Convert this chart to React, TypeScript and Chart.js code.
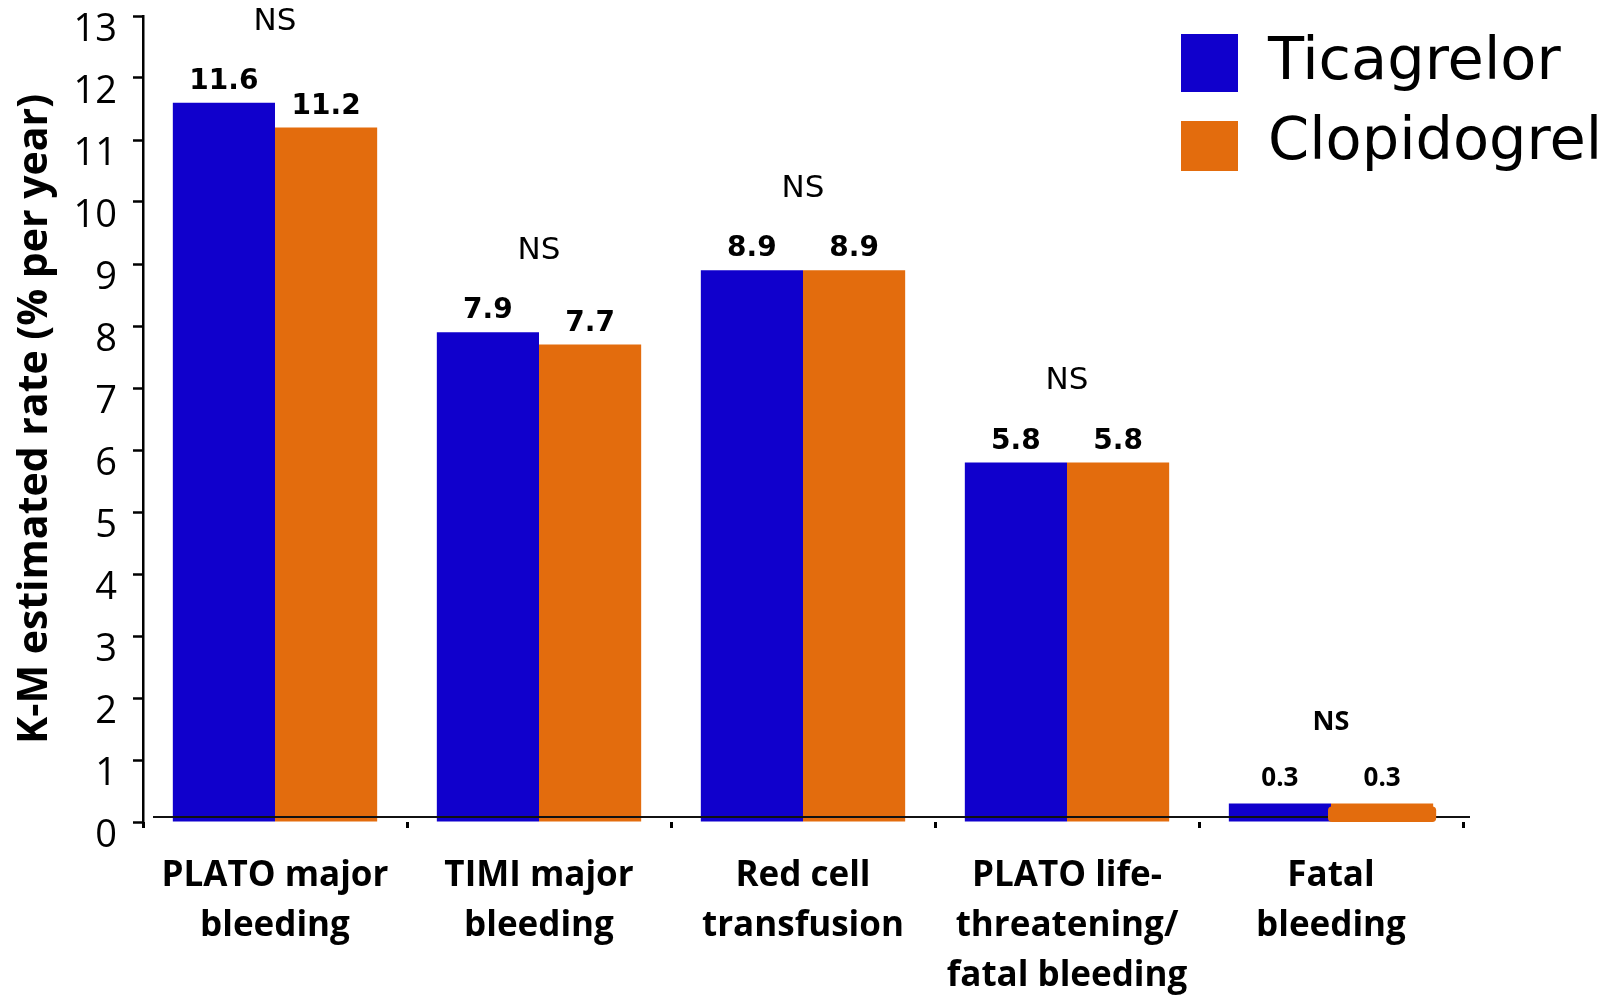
import React, { useEffect, useRef } from "react";
import { Chart, registerables } from "chart.js";

Chart.register(...registerables);

// Bleeding end points (K-M estimated rate, % per year)
const categories: string[][] = [
  ["PLATO major", "bleeding"],
  ["TIMI major", "bleeding"],
  ["Red cell", "transfusion"],
  ["PLATO life-", "threatening/", "fatal bleeding"],
  ["Fatal", "bleeding"],
];
const ticagrelor = [11.6, 7.9, 8.9, 5.8, 0.3];
const clopidogrel = [11.2, 7.7, 8.9, 5.8, 0.3];
const significance = ["NS", "NS", "NS", "NS", "NS"];
const seriesNames = ["Ticagrelor", "Clopidogrel"];
const yTicks = [0, 1, 2, 3, 4, 5, 6, 7, 8, 9, 10, 11, 12, 13];

const BLUE = "#1000CC";
const ORANGE = "#E36C0D";

// Value labels above the bars plus the "NS" note above each pair
const annotations = {
  id: "annotations",
  afterDatasetsDraw(chart: any) {
    const { ctx, chartArea } = chart;
    const y = chart.scales.y;
    const zero = y.getPixelForValue(0);

    // thin baseline rule drawn across the bars
    ctx.save();
    ctx.strokeStyle = "#111";
    ctx.lineWidth = 2;
    ctx.beginPath();
    ctx.moveTo(chartArea.left + 10, zero - 5);
    ctx.lineTo(chartArea.right + 7, zero - 5);
    ctx.stroke();
    ctx.restore();

    const metaA = chart.getDatasetMeta(0);
    const metaB = chart.getDatasetMeta(1);
    const last = categories.length - 1;

    // the last orange bar is drawn as a rounded block over the rule
    const lastBar: any = metaB.data[last];
    if (lastBar) {
      ctx.save();
      ctx.fillStyle = ORANGE;
      const w = lastBar.width + 6;
      ctx.beginPath();
      (ctx as any).roundRect(lastBar.x - lastBar.width / 2 - 3, lastBar.y + 3, w, zero - lastBar.y - 3, 4);
      ctx.fill();
      ctx.restore();
    }

    ctx.save();
    ctx.fillStyle = "#000";
    ctx.textAlign = "center";
    [metaA, metaB].forEach((meta: any, di: number) => {
      meta.data.forEach((bar: any, i: number) => {
        const v = chart.data.datasets[di].data[i];
        const text = v.toFixed(1);
        if (i === last) {
          ctx.font = "bold 26px 'Open Sans'";
          ctx.textBaseline = "middle";
          ctx.fillText(text, bar.x, bar.y - 25);
        } else {
          ctx.font = "bold 28px 'DejaVu Sans'";
          ctx.textBaseline = "bottom";
          ctx.fillText(text, bar.x, bar.y - 7);
        }
      });
    });

    significance.forEach((s, i) => {
      const a = metaA.data[i];
      const b = metaB.data[i];
      const cx = (a.x + b.x) / 2;
      const top = Math.min(a.y, b.y);
      ctx.textBaseline = "middle";
      ctx.font = i === last ? "bold 27px 'Open Sans'" : "31px 'DejaVu Sans'";
      ctx.fillText(s, cx, top - 81);
    });
    ctx.restore();
  },
};

// Legend in the upper right corner
const legendBox = {
  id: "legendBox",
  afterDraw(chart: any) {
    const { ctx } = chart;
    const rows = [
      { box: [1181, 34, 57, 58], textY: 64 },
      { box: [1181, 121, 57, 50], textY: 144 },
    ];
    ctx.save();
    chart.data.datasets.forEach((ds: any, i: number) => {
      const r = rows[i];
      ctx.fillStyle = ds.backgroundColor;
      ctx.fillRect(r.box[0], r.box[1], r.box[2], r.box[3]);
      ctx.fillStyle = "#000";
      ctx.font = "59px 'DejaVu Sans'";
      ctx.textAlign = "left";
      ctx.textBaseline = "middle";
      ctx.fillText(ds.label, 1268, r.textY);
    });
    ctx.restore();
  },
};

export default function App() {
  const ref = useRef<HTMLCanvasElement | null>(null);

  useEffect(() => {
    if (!ref.current) return;
    const chart = new Chart(ref.current, {
      type: "bar",
      data: {
        labels: categories,
        datasets: [
          {
            label: seriesNames[0],
            data: ticagrelor,
            backgroundColor: BLUE,
            borderWidth: 0,
          },
          {
            label: seriesNames[1],
            data: clopidogrel,
            backgroundColor: ORANGE,
            borderWidth: 0,
          },
        ],
      },
      options: {
        responsive: false,
        animation: false,
        devicePixelRatio: 1,
        layout: { padding: { left: 0, top: 16, right: 149, bottom: 0 } },
        plugins: {
          legend: { display: false },
          tooltip: { enabled: false },
        },
        datasets: {
          bar: { categoryPercentage: 0.774, barPercentage: 1 },
        },
        scales: {
          x: {
            offset: true,
            border: { display: false },
            grid: {
              offset: true,
              drawOnChartArea: false,
              drawTicks: true,
              tickLength: 6,
              tickWidth: 3,
              color: "#000",
            },
            ticks: {
              color: "#000",
              padding: 23,
              maxRotation: 0,
              autoSkip: false,
              font: { family: "'Open Sans'", size: 35, weight: "bold", lineHeight: 1.43 },
            },
            afterFit(scale: any) {
              scale.height = 174;
              scale.paddingLeft = 0;
              scale.paddingRight = 0;
            },
          },
          y: {
            min: yTicks[0],
            max: yTicks[yTicks.length - 1],
            border: { display: true, color: "#000", width: 2.5 },
            grid: {
              drawOnChartArea: false,
              drawTicks: true,
              tickLength: 10,
              tickWidth: 2.5,
              color: "#000",
            },
            ticks: {
              stepSize: 1,
              color: "#000",
              padding: 16,
              labelOffset: 14.5,
              font: { family: "'Open Sans'", size: 38 },
            },
            title: {
              display: true,
              text: "K-M estimated rate (% per year)",
              color: "#000",
              padding: { top: 11, bottom: 0 },
              font: { family: "'Open Sans'", size: 41, weight: "bold" },
            },
            afterFit(scale: any) {
              scale.width = 143;
              scale.paddingTop = 0;
              scale.paddingBottom = 0;
            },
          },
        },
      },
      plugins: [annotations, legendBox],
    });
    return () => chart.destroy();
  }, []);

  return (
    <div style={{ position: "absolute", left: 0, top: 0, width: 1612, height: 996, background: "#fff" }}>
      <canvas ref={ref} width={1612} height={996} style={{ width: 1612, height: 996, display: "block" }} />
    </div>
  );
}
